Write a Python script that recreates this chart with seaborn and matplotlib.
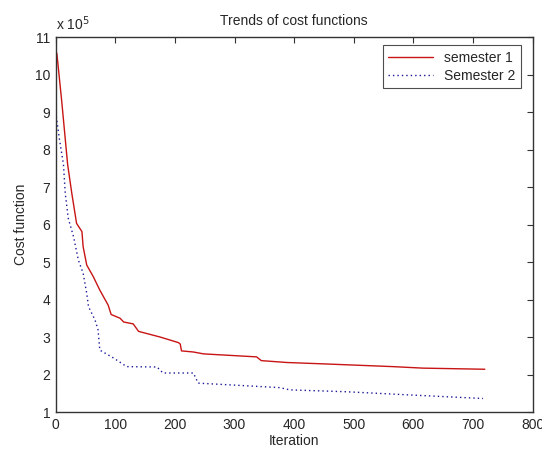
import numpy as np
import pandas as pd
import matplotlib
matplotlib.use('Agg')
import matplotlib.pyplot as plt
import seaborn as sns

# data (cost in units of 1e5)
iter_s1 = [0, 2, 10, 20, 27, 35, 44, 46, 52, 63, 74, 88, 93, 108, 114, 130, 139,
           175, 206, 209, 211, 231, 248, 337, 345, 388, 455, 566, 616, 720]
cost_s1 = [10.65, 10.55, 9.3, 7.6, 6.83, 6.03, 5.81, 5.41, 4.92, 4.61, 4.25, 3.85,
           3.6, 3.5, 3.4, 3.35, 3.15, 3.0, 2.85, 2.81, 2.63, 2.6, 2.55, 2.47, 2.37,
           2.32, 2.28, 2.21, 2.17, 2.14]
iter_s2 = [0, 6, 13, 16, 21, 30, 38, 46, 52, 55, 66, 71, 74, 97, 119, 170, 180,
           231, 239, 376, 393, 488, 600, 717]
cost_s2 = [9.0, 8.3, 7.6, 6.83, 6.17, 5.67, 5.05, 4.7, 4.17, 3.81, 3.45, 3.19,
           2.65, 2.44, 2.21, 2.2, 2.04, 2.04, 1.77, 1.65, 1.59, 1.54, 1.45, 1.36]
labels = ['semester 1', 'Semester 2']

df = pd.concat([
    pd.DataFrame({'Iteration': iter_s1, 'Cost': np.array(cost_s1) * 1e5, 'Series': labels[0]}),
    pd.DataFrame({'Iteration': iter_s2, 'Cost': np.array(cost_s2) * 1e5, 'Series': labels[1]}),
])

sns.set_style('white')
plt.rcParams['font.family'] = ['Liberation Sans', 'DejaVu Sans']
plt.rcParams['font.size'] = 10

fig = plt.figure(figsize=(5.42, 4.53), dpi=100)
ax = fig.add_axes([0.1028, 0.0905, 0.8797, 0.8278])

sns.lineplot(data=df, x='Iteration', y='Cost', hue='Series', style='Series',
             palette={labels[0]: '#c81414', labels[1]: '#18189a'},
             dashes={labels[0]: '', labels[1]: (1, 2.2)},
             sort=False, estimator=None, linewidth=1.0, ax=ax)

ax.set_xlim(0, 800)
ax.set_ylim(1e5, 11e5)
ax.set_xticks(range(0, 801, 100))
ax.set_yticks(np.arange(1, 12) * 1e5)
ax.yaxis.set_major_formatter(plt.FuncFormatter(lambda v, p: '%d' % round(v / 1e5)))
ax.text(0.0, 1.01, r'x 10$^5$', transform=ax.transAxes, fontsize=10, ha='left', va='bottom')

for s in ax.spines.values():
    s.set_color('#333333')
    s.set_linewidth(1.0)
ax.tick_params(direction='in', length=4, width=0.8, color='#333333', top=True, right=True,
               labelsize=10, pad=4)

ax.set_title('Trends of cost functions', fontsize=10, pad=9)
ax.set_xlabel('Iteration', fontsize=10, labelpad=2)
ax.set_ylabel('Cost function', fontsize=10, labelpad=5)

leg = ax.legend(loc='upper right', frameon=True, fancybox=False, fontsize=10,
                handlelength=3.2, borderpad=0.4, labelspacing=0.3,
                bbox_to_anchor=(0.99, 0.997))
leg.get_frame().set_edgecolor('#222222')
leg.get_frame().set_linewidth(0.8)

fig.savefig('out.png', dpi=100)
